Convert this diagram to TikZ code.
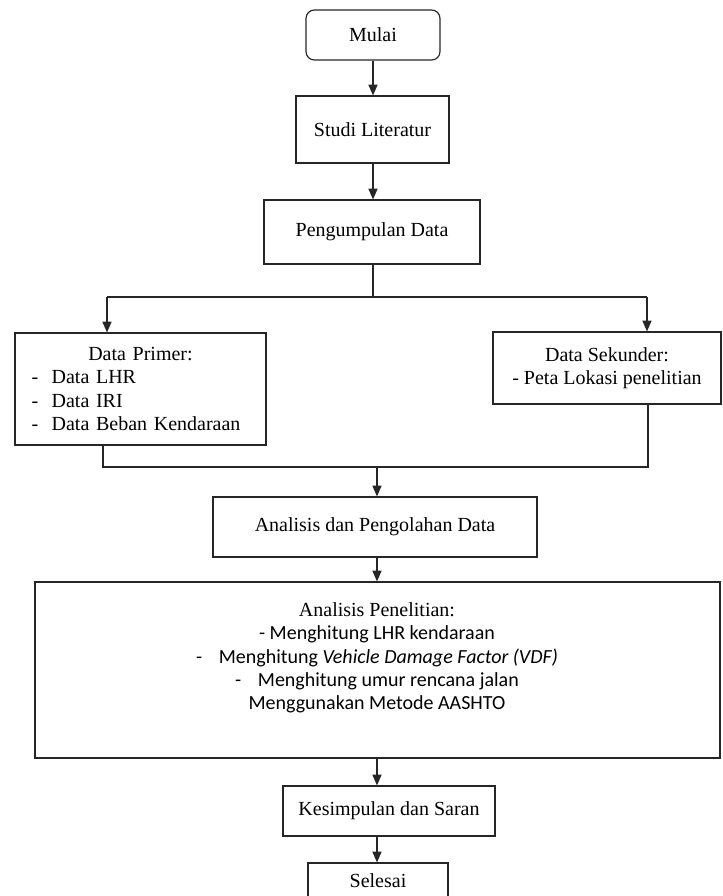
\documentclass[tikz,border=0pt]{standalone}
\usepackage{fontspec}
\setmainfont{Liberation Serif}
\newfontfamily\calibri{Carlito}
\usetikzlibrary{arrows.meta}
\tikzset{
    kotak/.style = {draw=black!85, line width=0.7pt, rectangle, inner sep=2pt, align=center, font=\fontsize{12}{14}\selectfont},
    kotak-bulat/.style = {kotak, rounded corners=5pt},
    garis/.style = {draw=black!85, line width=0.7pt},
    panah/.style = {garis, -{Triangle[width=5.5pt,length=6.5pt]}},
}

\begin{document}
\begin{tikzpicture}[x=0.6pt, y=-0.6pt]
\useasboundingbox (0,0) rectangle (723,896);

\node[kotak-bulat, minimum width=80.4pt, minimum height=30pt] (mulai) at (373,35) {Mulai};
\node[kotak, minimum width=91.8pt, minimum height=40.2pt] (studi) at (372.5,129.5) {Studi Literatur};
\node[kotak, minimum width=129.6pt, minimum height=38.4pt] (kumpul) at (372,232) {Pengumpulan Data};

\node[kotak, minimum width=150.6pt, minimum height=67.2pt, text width=130.6pt, align=left] (primer) at (140.5,389) {\makebox[130.6pt]{Data Primer:}\\
    \makebox[12pt][l]{-}Data LHR\\
    \makebox[12pt][l]{-}Data IRI\\
    \makebox[12pt][l]{-}Data Beban Kendaraan};
\node[kotak, minimum width=136.8pt, minimum height=43.2pt] (sekunder) at (607,368) {Data Sekunder:\\ - Peta Lokasi penelitian};

\node[kotak, minimum width=194.4pt, minimum height=36pt] (olah) at (375,527) {Analisis dan Pengolahan Data};
\node[kotak, minimum width=411pt, minimum height=105.6pt] (hasil) at (377.5,670) {};
\node[align=center, font=\fontsize{12}{14}\selectfont\calibri] (hasil-teks) at (377,658) {{\rmfamily Analisis Penelitian:}\\
    - Menghitung LHR kendaraan\\
    -\hspace{10pt}Menghitung \textit{Vehicle Damage Factor (VDF)}\\
    -\hspace{10pt}Menghitung umur rencana jalan\\
    Menggunakan Metode AASHTO};
\node[kotak, minimum width=127.2pt, minimum height=30pt] (simpul) at (389,811) {Kesimpulan dan Saran};
\node[kotak, minimum width=84pt, minimum height=21.6pt] (selesai) at (378,881) {Selesai};

% cabang dan gabungan
\coordinate (atas) at (373,0);
\coordinate (poros) at (377,0);
\coordinate (cabang) at (373,297);
\coordinate (kiri) at (107,297);
\coordinate (kanan) at (647,297);
\coordinate (gabung-kiri) at (103,467);
\coordinate (gabung-kanan) at (648,467);

\draw[panah] (mulai.south -| atas) -- (studi.north -| atas);
\draw[panah] (studi.south -| atas) -- (kumpul.north -| atas);
\draw[garis] (kumpul.south -| atas) -- (cabang);
\draw[garis] (kiri) -- (kanan);
\draw[panah] (kiri) -- (kiri |- primer.north);
\draw[panah] (kanan) -- (kanan |- sekunder.north);
\draw[garis] (primer.south -| gabung-kiri) -- (gabung-kiri) -- (gabung-kanan) -- (sekunder.south -| gabung-kanan);
\draw[panah] (poros |- gabung-kiri) -- (poros |- olah.north);
\draw[panah] (poros |- olah.south) -- (poros |- hasil.north);
\draw[panah] (poros |- hasil.south) -- (poros |- simpul.north);
\draw[panah] (poros |- simpul.south) -- (poros |- selesai.north);
\end{tikzpicture}
\end{document}
